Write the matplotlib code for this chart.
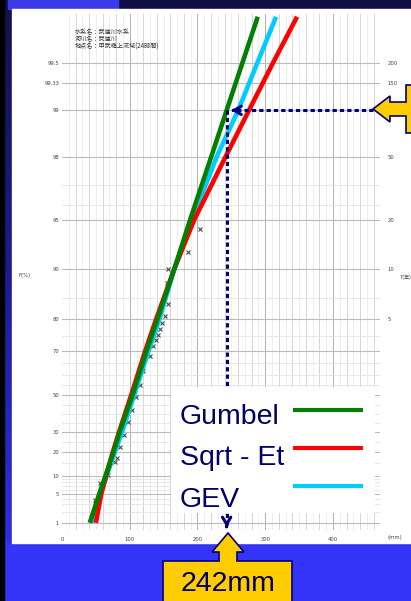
import numpy as np
import matplotlib.pyplot as plt
from matplotlib.patches import Rectangle, Polygon
from matplotlib.colors import LinearSegmentedColormap

# non-exceedance probability (%) and fitted rainfall (mm)
prob = [1, 5, 10, 20, 30, 50, 70, 80, 90, 95, 98, 99, 99.5, 99.75]
gumbel_mm = [41, 55, 64, 76, 85, 104, 125, 141, 166, 189, 220, 243, 266, 289]
sqrt_et_mm = [50, 58, 65, 75, 84, 102, 123, 139, 166, 195, 241, 276, 311, 347]
gev_mm = [44.5, 57, 66, 78, 88.5, 106.5, 128, 144, 166, 192, 228, 260, 288, 316]

# plotted observations
obs_mm = [49, 56, 68, 78, 81, 86, 91.5, 97, 103, 109, 115, 120, 130, 134, 139, 142, 145, 148, 152, 156, 155, 156, 186, 204]
obs_p = [3.7, 7.8, 10.4, 15.4, 17.2, 22.4, 28.5, 35.5, 42, 48.9, 55, 61.9, 68.1, 71.5, 73.6, 75.2, 77.3, 79.0, 80.9, 83.7, 87.8, 90.0, 92.1, 94.3]

p_ticks = [99.5, 99.33, 99, 98, 95, 90, 80, 70, 50, 30, 20, 10, 5, 1]
p_labels = ['99.5', '99.33', '99', '98', '95', '90', '80', '70', '50', '30', '20', '10', '5', '1']
p_minor = [2, 3, 4, 6, 7, 8, 9, 15, 25, 35, 40, 45, 55, 60, 65, 75, 85, 96, 97]
t_ticks = [99.5, 99.33, 99, 98, 95, 90, 80]
t_labels = ['200', '150', '100', '50', '20', '10', '5']

design_mm = 243
design_p = 99
labels = ['Gumbel', 'Sqrt - Et', 'GEV']
colors = ['#008000', '#ff0000', '#00ccff']

navy = '#00007a'
txt_navy = '#000066'


def gum(p):
    p = np.clip(np.asarray(p, float) / 100, 1e-9, 1 - 1e-12)
    return -np.log(-np.log(p))


def gum_inv(y):
    return 100 * np.exp(-np.exp(-np.asarray(y, float)))


W, H = 411, 601
fig = plt.figure(figsize=(W / 100, H / 100), dpi=100)

# slide frame
bg = fig.add_axes([0, 0, 1, 1])
bg.set_xlim(0, W)
bg.set_ylim(H, 0)
bg.axis('off')
bg.add_patch(Rectangle((0, 0), W, H, color='#3535fa'))
grad = np.linspace(0, 1, 100).reshape(-1, 1)
cm = LinearSegmentedColormap.from_list('side', ['#12124a', '#1c1c90', '#2e2ee0'])
bg.imshow(grad, extent=(4, 12, 543, 0), aspect='auto', cmap=cm, zorder=1)
bg.add_patch(Rectangle((4, 0), W, 9, color='#0f0f45', zorder=1))
bg.add_patch(Rectangle((8, 0), 110, 9, color='#3a3ae8', zorder=1))
bg.add_patch(Rectangle((0, 0), 4, H, color='black', zorder=2))
bg.add_patch(Rectangle((12, 9), W - 12, 534, color='white', zorder=2))

# probability paper
ax = fig.add_axes([62 / W, (H - 530) / H, (380.4 - 62) / W, (530 - 14) / H])
ax.set_facecolor('none')
ax.set_yscale('function', functions=(gum, gum_inv))
ax.set_xlim(0, 470)
ax.set_ylim(0.594, 99.76)
for s in ax.spines.values():
    s.set_visible(False)

for x in np.arange(10, 470, 10):
    c = '#b0b0b0' if x % 100 == 0 else ('#d6d6d6' if x % 20 == 0 else '#eeeeee')
    ax.axvline(x, color=c, lw=0.7, zorder=0)
for p in p_minor:
    ax.axhline(p, color='#e4e4e4', lw=0.6, zorder=0)
for p in p_ticks:
    ax.axhline(p, color='#bbbbbb', lw=0.8, zorder=0)

ax.set_yticks(p_ticks)
ax.set_yticklabels(p_labels)
ax.yaxis.set_minor_locator(plt.NullLocator())
ax.set_xticks([0, 100, 200, 300, 400])
ax.tick_params(length=0, labelsize=3.8, labelcolor='#444444', pad=2)
ax.tick_params(axis='x', pad=5)

# return period axis
ax2 = ax.twinx()
ax2.set_facecolor('none')
ax2.set_yscale('function', functions=(gum, gum_inv))
ax2.set_ylim(ax.get_ylim())
ax2.set_yticks(t_ticks)
ax2.set_yticklabels(t_labels)
ax2.yaxis.set_minor_locator(plt.NullLocator())
ax2.tick_params(length=0, labelsize=3.8, labelcolor='#444444', pad=5)
for s in ax2.spines.values():
    s.set_visible(False)

ax.plot(obs_mm, obs_p, 'x', ms=2.8, mew=0.8, color='#4a4a4a', zorder=1)
lc, = ax.plot(gev_mm, prob, color=colors[2], lw=3.3, solid_capstyle='butt', zorder=2)
lr, = ax.plot(sqrt_et_mm, prob, color=colors[1], lw=3.3, solid_capstyle='butt', zorder=2.1)
lg, = ax.plot(gumbel_mm, prob, color=colors[0], lw=3.3, solid_capstyle='butt', zorder=2.2)

# dotted guide lines for the 100-year value
ax.plot([459, 252], [design_p, design_p], ls=(0, (1.4, 1)), lw=2.2, color=navy,
        dash_capstyle='butt', clip_on=False, zorder=3)
ax.annotate('', xy=(250, design_p), xytext=(258, design_p),
            arrowprops=dict(arrowstyle='->,head_length=0.5,head_width=0.3', lw=2.2, color=navy))
ax.plot([design_mm, design_mm], [design_p, 0.8], ls=(0, (1.4, 1)), lw=2.2, color=navy,
        dash_capstyle='butt', clip_on=False, zorder=3)
ax.annotate('', xy=(design_mm, 0.6), xytext=(design_mm, 0.95),
            arrowprops=dict(arrowstyle='->,head_length=0.5,head_width=0.3', lw=2.2, color=navy),
            annotation_clip=False)

# small paper annotations
small = ['Noto Sans CJK JP', 'DejaVu Sans']
info = ['水系名：武庫川水系', '河川名：武庫川', '地点名：甲武橋上流域(24時間)']
for i, s in enumerate(info):
    fig.text(75 / W, 1 - (32 + 7.3 * i) / H, s, family=small, fontsize=4.4,
             color='#333333', va='center')
fig.text(18 / W, 1 - 275 / H, 'F(%)', fontsize=3.8, color='#444444', va='center')
fig.text(400 / W, 1 - 277 / H, 'T(年)', family=small, fontsize=3.8, color='#444444', va='center')
fig.text(387 / W, 1 - 538 / H, '(mm)', fontsize=3.8, color='#444444', va='center')

# overlay: legend box and callouts
fg = fig.add_axes([0, 0, 1, 1], zorder=10)
fg.set_xlim(0, W)
fg.set_ylim(H, 0)
fg.axis('off')
fg.add_patch(Rectangle((171, 387), 204, 126, facecolor='white', edgecolor='none'))
text_base = [424, 465, 507]
key_y = [410, 448, 486]
for lab, col, tb, ky in zip(labels, colors, text_base, key_y):
    fg.text(180, tb, lab, va='baseline', ha='left', fontsize=20.5,
            family='Liberation Sans', color=txt_navy)
    fg.plot([293, 363], [ky, ky], color=col, lw=3, solid_capstyle='butt')

fg.add_patch(Polygon([(373, 109), (390, 96), (390, 102), (406, 102), (406, 85), (416, 85),
                      (416, 133), (406, 133), (406, 116), (390, 116), (390, 122)],
                     closed=True, facecolor='#ffcc00', edgecolor=navy, lw=1.2))
fg.add_patch(Polygon([(228, 533), (244, 552), (237, 552), (237, 561), (292, 561), (292, 606),
                      (163, 606), (163, 561), (219, 561), (219, 552), (212, 552)],
                     closed=True, facecolor='#ffcc00', edgecolor=navy, lw=1.2))
fg.text(228, 584, '242mm', ha='center', va='center', fontsize=20.5,
        family='Liberation Sans', color=txt_navy)

fig.savefig('out.png', dpi=100)
